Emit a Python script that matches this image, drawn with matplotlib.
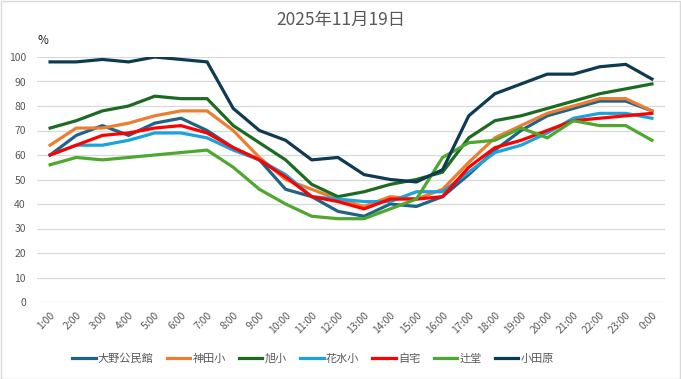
import matplotlib
matplotlib.use("Agg")
import matplotlib.pyplot as plt
from matplotlib.patches import Rectangle

plt.rcParams["font.family"] = ["Noto Sans CJK JP", "DejaVu Sans"]

# ── Data ───────────────────────────────────────────────────────────────────────
hours = [f"{h}:00" for h in range(1, 24)] + ["0:00"]

ono      = [60, 68, 72, 68, 73, 75, 70, 63, 58, 46, 43, 37, 35, 40, 39, 43, 52, 62, 70, 76, 79, 82, 82, 78]
kanda    = [64, 71, 71, 73, 76, 78, 78, 70, 59, 50, 46, 42, 39, 43, 42, 46, 57, 67, 72, 77, 80, 83, 83, 78]
asahi    = [71, 74, 78, 80, 84, 83, 83, 72, 65, 58, 48, 43, 45, 48, 50, 53, 67, 74, 76, 79, 82, 85, 87, 89]
hanamizu = [60, 64, 64, 66, 69, 69, 67, 62, 58, 52, 43, 42, 41, 41, 45, 45, 53, 61, 64, 69, 75, 77, 77, 75]
jitaku   = [60, 64, 68, 69, 71, 72, 69, 63, 58, 51, 43, 41, 38, 42, 42, 43, 55, 63, 66, 70, 74, 75, 76, 77]
tsujido  = [56, 59, 58, 59, 60, 61, 62, 55, 46, 40, 35, 34, 34, 38, 42, 59, 65, 66, 71, 67, 74, 72, 72, 66]
odawara  = [98, 98, 99, 98, 100, 99, 98, 79, 70, 66, 58, 59, 52, 50, 49, 54, 76, 85, 89, 93, 93, 96, 97, 91]

series = [
    ("大野公民館", ono,      "#1f6387"),
    ("神田小",     kanda,    "#ed7d31"),
    ("旭小",       asahi,    "#1d6b22"),
    ("花水小",     hanamizu, "#1aa3dd"),
    ("自宅",       jitaku,   "#ff0000"),
    ("辻堂",       tsujido,  "#4ea72e"),
    ("小田原",     odawara,  "#0e3a52"),
]

GRAY = "#595959"

# ── Plot ───────────────────────────────────────────────────────────────────────
fig = plt.figure(figsize=(6.81, 3.79), dpi=100)
ax = fig.add_axes([37 / 681, 77 / 379, 628 / 681, 245 / 379])

x = list(range(len(hours)))
for name, vals, col in series:
    ax.plot(x, vals, color=col, lw=2.3, label=name, solid_joinstyle="round")

ax.set_xlim(-0.5, len(hours) - 0.5)
ax.set_ylim(0, 100)
ax.set_yticks(range(0, 101, 10))
ax.set_xticks(x)
ax.set_xticklabels(hours, rotation=45, ha="right", rotation_mode="anchor",
                   fontsize=7.5, color=GRAY)
ax.tick_params(axis="y", labelsize=7.5, labelcolor=GRAY, length=0, pad=8)
ax.tick_params(axis="x", length=0, pad=6)
ax.grid(axis="y", color="#d9d9d9", lw=0.9)
ax.set_axisbelow(True)
for s in ax.spines.values():
    s.set_visible(False)

fig.text(341 / 681, 1 - 20 / 379, "2025年11月19日", ha="center", va="center",
         fontsize=12.5, color=GRAY)
fig.text(38 / 681, 1 - 41 / 379, "%", ha="left", va="center", fontsize=8.5, color="#222222")

ax.legend(loc="center", bbox_to_anchor=(313 / 681, 20 / 379),
          bbox_transform=fig.transFigure, ncol=7, frameon=False,
          fontsize=8, handlelength=2.1, handletextpad=0.2, columnspacing=1.2,
          labelcolor=GRAY)

fig.patches.append(Rectangle((0.001, 0.001), 0.997, 0.997, transform=fig.transFigure,
                             fill=False, edgecolor="#d9d9d9", lw=1))

fig.savefig("out.png", dpi=100)
